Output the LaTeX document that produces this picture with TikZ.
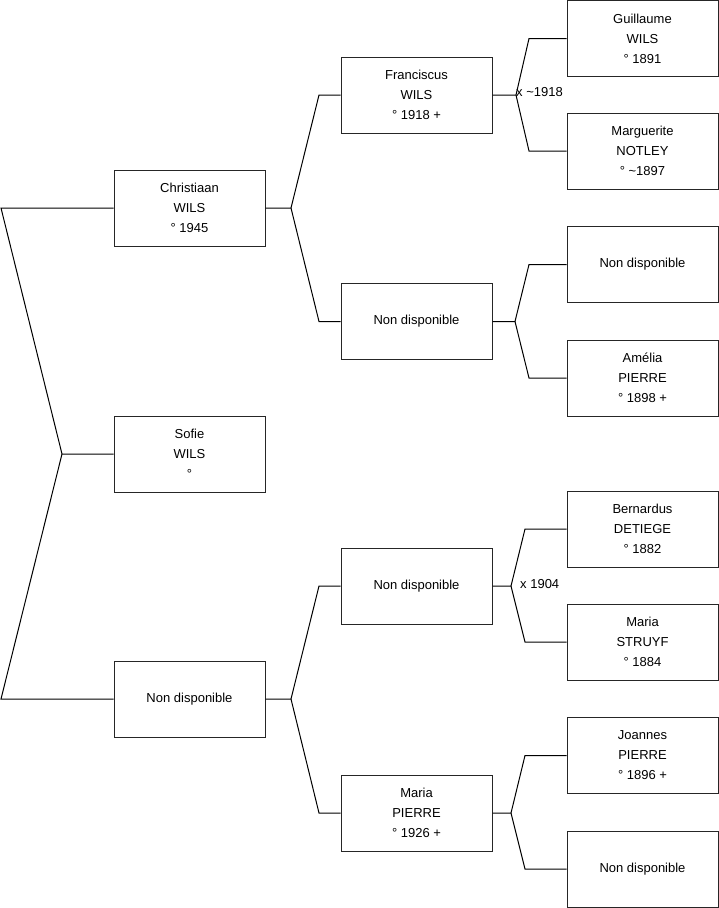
\documentclass[tikz,border=0pt]{standalone}
\usepackage{fontspec}
\setmainfont{Liberation Sans}
\begin{document}
\begin{tikzpicture}[x=1pt,y=-1pt,
  person/.style={draw=black!85,line width=1pt,rectangle,minimum width=151pt,minimum height=76pt,inner sep=0pt,
    align=center,font=\fontsize{13}{20}\selectfont,text=black},
  link/.style={draw=black,line width=1pt},
  union/.style={anchor=west,inner sep=0pt,font=\fontsize{13}{15}\selectfont,text=black}]
\useasboundingbox (0,0) rectangle (719,908);
% column 1
\node[person] (chr) at (189.5,208) {Christiaan\\WILS\\° 1945};
\node[person] (sof) at (189.5,454) {Sofie\\WILS\\°};
\node[person] (nd1) at (189.5,699) {Non disponible};
% column 2
\node[person] (fra) at (416.5,95) {Franciscus\\WILS\\° 1918 +};
\node[person] (nd2) at (416.5,321.5) {Non disponible};
\node[person] (nd3) at (416.5,586) {Non disponible};
\node[person] (mpi) at (416.5,813) {Maria\\PIERRE\\° 1926 +};
% column 3
\node[person] (gui) at (642.5,38.5) {Guillaume\\WILS\\° 1891};
\node[person] (mar) at (642.5,151) {Marguerite\\NOTLEY\\° \textasciitilde1897};
\node[person] (nd4) at (642.5,264.5) {Non disponible};
\node[person] (ame) at (642.5,378) {Amélia\\PIERRE\\° 1898 +};
\node[person] (ber) at (642.5,529) {Bernardus\\DETIEGE\\° 1882};
\node[person] (mst) at (642.5,642) {Maria\\STRUYF\\° 1884};
\node[person] (joa) at (642.5,755.5) {Joannes\\PIERRE\\° 1896 +};
\node[person] (nd5) at (642.5,869) {Non disponible};
% fork coordinates
\coordinate (f0) at (62,454);  \coordinate (a0) at (1,208);   \coordinate (b0) at (1,699);
\coordinate (f1) at (291,208); \coordinate (a1) at (319,95);  \coordinate (b1) at (319,321.5);
\coordinate (f2) at (291,699); \coordinate (a2) at (319,586); \coordinate (b2) at (319,813);
\coordinate (f3) at (516,95);  \coordinate (a3) at (529,38.5); \coordinate (b3) at (529,151);
\coordinate (f4) at (515,321.5); \coordinate (a4) at (529,264.5); \coordinate (b4) at (529,378);
\coordinate (f5) at (511,586); \coordinate (a5) at (525,529); \coordinate (b5) at (525,642);
\coordinate (f6) at (511,813); \coordinate (a6) at (525,755.5); \coordinate (b6) at (525,869);
% connectors
\draw[link] (sof.west) -- (f0) -- (a0) -- (chr.west);
\draw[link] (f0) -- (b0) -- (nd1.west);
\draw[link] (chr.east) -- (f1) -- (a1) -- (fra.west);
\draw[link] (f1) -- (b1) -- (nd2.west);
\draw[link] (nd1.east) -- (f2) -- (a2) -- (nd3.west);
\draw[link] (f2) -- (b2) -- (mpi.west);
\draw[link] (fra.east) -- (f3) -- (a3) -- (gui.west);
\draw[link] (f3) -- (b3) -- (mar.west);
\draw[link] (nd2.east) -- (f4) -- (a4) -- (nd4.west);
\draw[link] (f4) -- (b4) -- (ame.west);
\draw[link] (nd3.east) -- (f5) -- (a5) -- (ber.west);
\draw[link] (f5) -- (b5) -- (mst.west);
\draw[link] (mpi.east) -- (f6) -- (a6) -- (joa.west);
\draw[link] (f6) -- (b6) -- (nd5.west);
% union labels
\node[union] (u1) at (516,92) {x \textasciitilde1918};
\node[union] (u2) at (520,584) {x 1904};
\end{tikzpicture}
\end{document}
